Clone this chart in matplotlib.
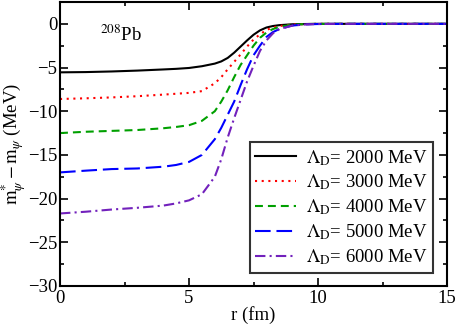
import matplotlib
matplotlib.use("Agg")
import matplotlib.pyplot as plt
from matplotlib.ticker import MultipleLocator

plt.rcParams['font.family'] = ['Liberation Serif', 'DejaVu Serif']
plt.rcParams['mathtext.fontset'] = 'stix'

# radius grid (fm)
r = [0, 1, 2, 3, 4, 4.5, 5, 5.5, 6, 6.25, 6.5, 6.75, 7, 7.25, 7.5, 7.75,
     8, 8.25, 8.5, 9, 9.5, 10, 11, 12, 13, 14, 15]

m_2000 = [-5.55, -5.52, -5.45, -5.35, -5.22, -5.15, -5.05, -4.85, -4.55, -4.3,
          -3.9, -3.3, -2.6, -1.9, -1.25, -0.75, -0.42, -0.25, -0.15, -0.05,
          -0.02, 0, 0, 0, 0, 0, 0]
m_3000 = [-8.6, -8.52, -8.42, -8.28, -8.1, -8.0, -7.9, -7.7, -6.8, -6.1,
          -5.2, -4.35, -3.5, -2.6, -1.8, -1.2, -0.7, -0.42, -0.25, -0.08,
          -0.03, 0, 0, 0, 0, 0, 0]
m_4000 = [-12.5, -12.35, -12.25, -12.15, -11.95, -11.8, -11.6, -11.1, -10.0,
          -8.9, -7.6, -6.1, -4.7, -3.6, -2.5, -1.6, -1.0, -0.6, -0.35, -0.1,
          -0.03, 0, 0, 0, 0, 0, 0]
m_5000 = [-17.0, -16.8, -16.62, -16.55, -16.35, -16.15, -15.8, -15.0, -13.2,
          -11.9, -10.4, -8.9, -7.0, -5.2, -3.6, -2.5, -1.5, -0.95, -0.6, -0.2,
          -0.06, -0.02, 0, 0, 0, 0, 0]
m_6000 = [-21.7, -21.5, -21.25, -21.05, -20.8, -20.55, -20.2, -19.5, -17.5,
          -15.5, -13.0, -10.8, -8.7, -6.6, -4.8, -3.1, -1.9, -1.1, -0.6, -0.2,
          -0.07, -0.02, 0, 0, 0, 0, 0]

labels = [r'$\Lambda_{\mathrm{D}}$= 2000 MeV', r'$\Lambda_{\mathrm{D}}$= 3000 MeV',
          r'$\Lambda_{\mathrm{D}}$= 4000 MeV', r'$\Lambda_{\mathrm{D}}$= 5000 MeV',
          r'$\Lambda_{\mathrm{D}}$= 6000 MeV']

fig = plt.figure(figsize=(4.56, 3.27), dpi=100)
ax = fig.add_axes([0.1316, 0.1254, 0.8487, 0.8685])

lw = 1.5
ax.plot(r, m_2000, color='black', lw=lw, ls='-', label=labels[0])
ax.plot(r, m_3000, color='#ff0000', lw=lw, ls=(0, (1, 2.2)), label=labels[1])
ax.plot(r, m_4000, color='#00a000', lw=lw, ls=(0, (3.8, 2.4)), label=labels[2])
ax.plot(r, m_5000, color='#0000ff', lw=lw, ls=(0, (7.5, 2.8)), label=labels[3])
ax.plot(r, m_6000, color='#7221bc', lw=lw, ls=(0, (5, 2, 1, 2)), label=labels[4])

ax.set_xlim(0, 15)
ax.set_ylim(-30, 2.5)
ax.xaxis.set_major_locator(MultipleLocator(5))
ax.xaxis.set_minor_locator(MultipleLocator(2.5))
ax.yaxis.set_major_locator(MultipleLocator(5))
ax.yaxis.set_minor_locator(MultipleLocator(2.5))
ax.tick_params(which='both', direction='in', top=True, right=True,
               labelsize=13.5, width=1.2)
ax.tick_params(which='major', length=6)
ax.tick_params(which='minor', length=3)
ax.tick_params(axis='y', pad=2)
ax.tick_params(axis='x', pad=3)
for s in ax.spines.values():
    s.set_linewidth(1.5)

ax.set_xlabel('r (fm)', fontsize=13.5, labelpad=-1)
ax.set_ylabel(r'$\mathrm{m}^{*}_{\psi} - \mathrm{m}_{\psi}$ (MeV)', fontsize=13.5, labelpad=0)

ax.text(1.55, -2.0, r'$^{208}$Pb', fontsize=13.5)

leg = ax.legend(loc='lower right', bbox_to_anchor=(0.964, 0.046), fontsize=13.5,
                frameon=True, fancybox=False, edgecolor='black',
                handlelength=2.2, labelspacing=0.28, borderpad=0.3,
                handletextpad=0.5, borderaxespad=0)
leg.get_frame().set_linewidth(1.5)

fig.savefig('out.png', dpi=100)
